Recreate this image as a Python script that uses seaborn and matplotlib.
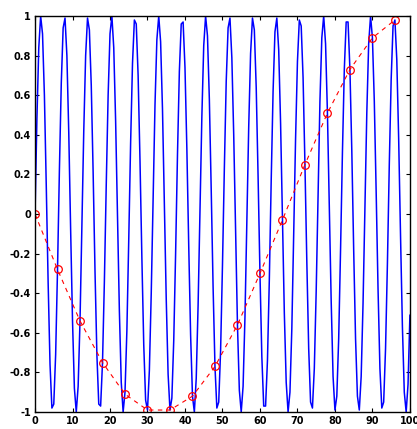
import numpy as np
import pandas as pd
import matplotlib
matplotlib.use("Agg")
import matplotlib.pyplot as plt
import seaborn as sns

# Continuous signal, sampled every 0.5 on [0, 100]
t_fine = np.arange(0, 100.5, 0.5)
signal_values = [
    0.00, 0.48, 0.84, 1.00, 0.91, 0.60, 0.14, -0.35, -0.76, -0.98, -0.96, -0.71, -0.28,
    0.22, 0.66, 0.94, 0.99, 0.80, 0.41, -0.08, -0.54, -0.88, -1.00, -0.87, -0.54, -0.07,
    0.42, 0.80, 0.99, 0.93, 0.65, 0.21, -0.29, -0.71, -0.96, -0.97, -0.75, -0.34,
    0.15, 0.60, 0.91, 1.00, 0.84, 0.47, -0.01, -0.49, -0.85, -1.00, -0.90, -0.59, -0.13,
    0.36, 0.76, 0.98, 0.96, 0.70, 0.27, -0.22, -0.66, -0.94, -0.99, -0.79, -0.40,
    0.08, 0.55, 0.88, 1.00, 0.87, 0.53, 0.06, -0.43, -0.81, -0.99, -0.93, -0.64, -0.20,
    0.30, 0.72, 0.96, 0.97, 0.74, 0.33, -0.16, -0.61, -0.92, -1.00, -0.83, -0.46,
    0.02, 0.49, 0.85, 1.00, 0.90, 0.58, 0.12, -0.37, -0.77, -0.98, -0.95, -0.69, -0.26,
    0.23, 0.67, 0.94, 0.99, 0.79, 0.40, -0.09, -0.56, -0.89, -1.00, -0.87, -0.52, -0.05,
    0.44, 0.81, 0.99, 0.93, 0.64, 0.19, -0.30, -0.72, -0.97, -0.97, -0.74, -0.33,
    0.17, 0.62, 0.92, 0.99, 0.83, 0.46, -0.03, -0.50, -0.85, -1.00, -0.90, -0.58, -0.11,
    0.38, 0.77, 0.98, 0.95, 0.69, 0.25, -0.24, -0.68, -0.95, -0.98, -0.78, -0.39,
    0.10, 0.57, 0.89, 1.00, 0.86, 0.51, 0.04, -0.44, -0.82, -0.99, -0.92, -0.63, -0.18,
    0.31, 0.73, 0.97, 0.97, 0.73, 0.32, -0.18, -0.63, -0.92, -0.99, -0.82, -0.45,
    0.04, 0.51, 0.86, 1.00, 0.89, 0.57, 0.11, -0.38, -0.78, -0.98, -0.95, -0.68, -0.25,
    0.25, 0.68, 0.95, 0.98, 0.78, 0.38, -0.11, -0.57, -0.90, -1.00, -0.86, -0.51,
]

# Samples taken every 6 units (aliased)
t_samples = [0, 6, 12, 18, 24, 30, 36, 42, 48, 54, 60, 66, 72, 78, 84, 90, 96]
sample_values = [0.00, -0.28, -0.54, -0.75, -0.91, -0.99, -0.99, -0.92, -0.77,
                 -0.56, -0.30, -0.03, 0.25, 0.51, 0.73, 0.89, 0.98]

x_ticks = [0, 10, 20, 30, 40, 50, 60, 70, 80, 90, 100]
y_ticks = [-1, -0.8, -0.6, -0.4, -0.2, 0, 0.2, 0.4, 0.6, 0.8, 1]
y_tick_labels = ["-1", "-0.8", "-0.6", "-0.4", "-0.2", "0", "0.2", "0.4", "0.6", "0.8", "1"]

sns.set_style("white")
plt.rcParams["font.family"] = ["DejaVu Sans"]

fig = plt.figure(figsize=(4.17, 4.29), dpi=100)
ax = fig.add_axes([0.084, 0.0396, 0.899, 0.923])

fine_df = pd.DataFrame({"t": t_fine, "y": signal_values})
samp_df = pd.DataFrame({"t": t_samples, "y": sample_values})

sns.lineplot(data=fine_df, x="t", y="y", ax=ax, color="#0000ff", linewidth=1.1,
             sort=False, estimator=None)
sns.lineplot(data=samp_df, x="t", y="y", ax=ax, color="#ff0000", linewidth=0.8,
             linestyle=(0, (4, 4)), marker="o", markersize=5.5,
             markerfacecolor="none", markeredgecolor="#ff0000", markeredgewidth=0.9,
             sort=False, estimator=None)

ax.set_xlim(0, 100)
ax.set_ylim(-1, 1)
ax.set_xticks(x_ticks)
ax.set_xticklabels([str(v) for v in x_ticks])
ax.set_yticks(y_ticks)
ax.set_yticklabels(y_tick_labels)
ax.set_xlabel("")
ax.set_ylabel("")
ax.tick_params(direction="in", length=3, width=0.8, labelsize=7, pad=3,
               top=True, right=True, bottom=True, left=True, colors="black")
for lbl in ax.get_xticklabels() + ax.get_yticklabels():
    lbl.set_fontweight("bold")
for side in ax.spines.values():
    side.set_color("black")
    side.set_linewidth(1.0)

fig.savefig("out.png", dpi=100, facecolor="white")
